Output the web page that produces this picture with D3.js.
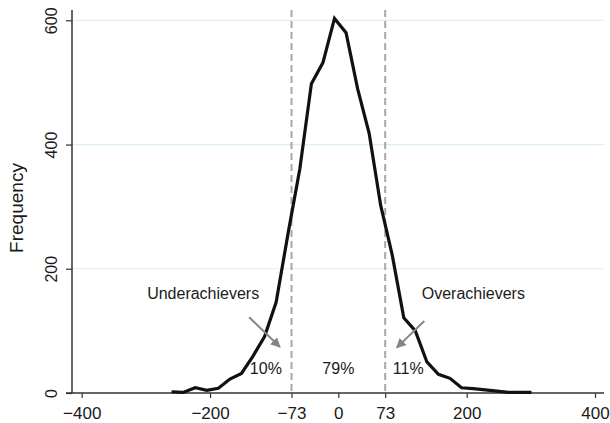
<!DOCTYPE html>
<html>
<head>
<meta charset="utf-8">
<script src="https://cdn.jsdelivr.net/npm/d3@7"></script>
<style>
  body { margin: 0; background: #fff; }
  text { font-family: "Liberation Sans", Arial, sans-serif; fill: #1a1a1a; }
</style>
</head>
<body>
<svg></svg>
<script>
// frequency polygon
let binMid = [-260, -242, -223, -205, -187, -169, -151, -133, -115, -97, -78, -60, -42, -24, -6,
  12, 30, 48, 66, 84, 102, 120, 138, 156, 174, 192, 210, 229, 247, 265, 283, 301];
let freq = [2, 1, 8.5, 4.3, 7.6, 22.5, 31.4, 59.5, 91, 146, 259, 361, 498, 532, 603,
  580, 490, 418, 302, 222, 121, 100, 50, 30, 23.6, 8.5, 7, 5, 3, 1, 1, 1];

let xTicks = [-400, -200, -73, 0, 73, 200, 400];
let yTicks = [0, 200, 400, 600];
let cutoffs = [-73, 73];
let shares = [{x: -113, label: "10%"}, {x: 0, label: "79%"}, {x: 109, label: "11%"}];
let groups = [
  {label: "Underachievers", x: -298, from: [-139, 122], to: [-91, 74]},
  {label: "Overachievers", x: 130, from: [134, 116], to: [91, 73]}
];

let width = 610, height = 423;

let svg = d3.select("svg")
    .attr("width", width)
    .attr("height", height);

let x = d3.scaleLinear().domain([-400, 400]).range([81.7, 595]);
let y = d3.scaleLinear().domain([0, 600]).range([393, 20.3]);

// grid
svg.append("g")
    .selectAll("line")
    .data(yTicks.filter(d => d > 0))
    .enter()
    .append("line")
    .attr("x1", 73).attr("x2", 604)
    .attr("y1", d => y(d)).attr("y2", d => y(d))
    .attr("stroke", "#dceff1")
    .attr("stroke-width", 1.2);

// cutoff lines
svg.append("g")
    .selectAll("line")
    .data(cutoffs)
    .enter()
    .append("line")
    .attr("x1", d => x(d)).attr("x2", d => x(d))
    .attr("y1", 10).attr("y2", 393)
    .attr("stroke", "#a8a8a8")
    .attr("stroke-width", 2)
    .attr("stroke-dasharray", "7,4");

// axes
let xAxis = svg.append("g")
    .attr("transform", "translate(0," + y(0) + ")")
    .call(d3.axisBottom(x).tickValues(xTicks).tickSize(5).tickSizeOuter(0)
      .tickFormat(d => d < 0 ? "\u2212" + Math.abs(d) : d));
xAxis.select(".domain").remove();
xAxis.selectAll(".tick line").attr("stroke", "#333").attr("stroke-width", 1.2);
xAxis.selectAll(".tick text")
    .attr("y", 14)
    .attr("dy", "0.71em")
    .style("font-size", "17px")
    .style("font-family", "Liberation Sans, Arial, sans-serif")
    .attr("fill", "#1a1a1a");
svg.append("line")
    .attr("x1", 66).attr("x2", 604)
    .attr("y1", y(0)).attr("y2", y(0))
    .attr("stroke", "#333").attr("stroke-width", 1.5);

let yAxis = svg.append("g")
    .attr("transform", "translate(72,0)")
    .call(d3.axisLeft(y).tickValues(yTicks).tickSize(6).tickSizeOuter(0));
yAxis.select(".domain").remove();
yAxis.selectAll(".tick line").attr("stroke", "#333").attr("stroke-width", 1.2);
yAxis.selectAll(".tick text")
    .attr("x", null).attr("dy", null)
    .attr("transform", "translate(-15,0) rotate(-90)")
    .attr("text-anchor", "middle")
    .style("font-size", "16px")
    .style("font-family", "Liberation Sans, Arial, sans-serif")
    .attr("fill", "#1a1a1a");
svg.append("line")
    .attr("x1", 72).attr("x2", 72)
    .attr("y1", 10).attr("y2", 393)
    .attr("stroke", "#333").attr("stroke-width", 1.5);

svg.append("text")
    .attr("transform", "translate(23," + 208 + ") rotate(-90)")
    .attr("text-anchor", "middle")
    .style("font-size", "19px")
    .text("Frequency");

// curve
let line = d3.line()
    .x((d, i) => x(binMid[i]))
    .y(d => y(d));

svg.append("path")
    .datum(freq)
    .attr("d", line)
    .attr("fill", "none")
    .attr("stroke", "#111")
    .attr("stroke-width", 3.2)
    .attr("stroke-linejoin", "miter");

// arrows
svg.append("defs").append("marker")
    .attr("id", "head")
    .attr("viewBox", "0 0 10 10")
    .attr("refX", 9).attr("refY", 5)
    .attr("markerWidth", 5).attr("markerHeight", 5)
    .attr("markerUnits", "strokeWidth")
    .attr("orient", "auto")
    .append("path")
    .attr("d", "M0,0 L10,5 L0,10 z")
    .attr("fill", "#858585");

svg.append("g")
    .selectAll("line")
    .data(groups)
    .enter()
    .append("line")
    .attr("x1", d => x(d.from[0])).attr("y1", d => y(d.from[1]))
    .attr("x2", d => x(d.to[0])).attr("y2", d => y(d.to[1]))
    .attr("stroke", "#858585")
    .attr("stroke-width", 2)
    .attr("marker-end", "url(#head)");

svg.append("g")
    .selectAll("text")
    .data(groups)
    .enter()
    .append("text")
    .attr("x", d => x(d.x))
    .attr("y", 299)
    .style("font-size", "16px")
    .text(d => d.label);

svg.append("g")
    .selectAll("text")
    .data(shares)
    .enter()
    .append("text")
    .attr("x", d => x(d.x))
    .attr("y", 374)
    .attr("text-anchor", "middle")
    .style("font-size", "16px")
    .text(d => d.label);
</script>
</body>
</html>
